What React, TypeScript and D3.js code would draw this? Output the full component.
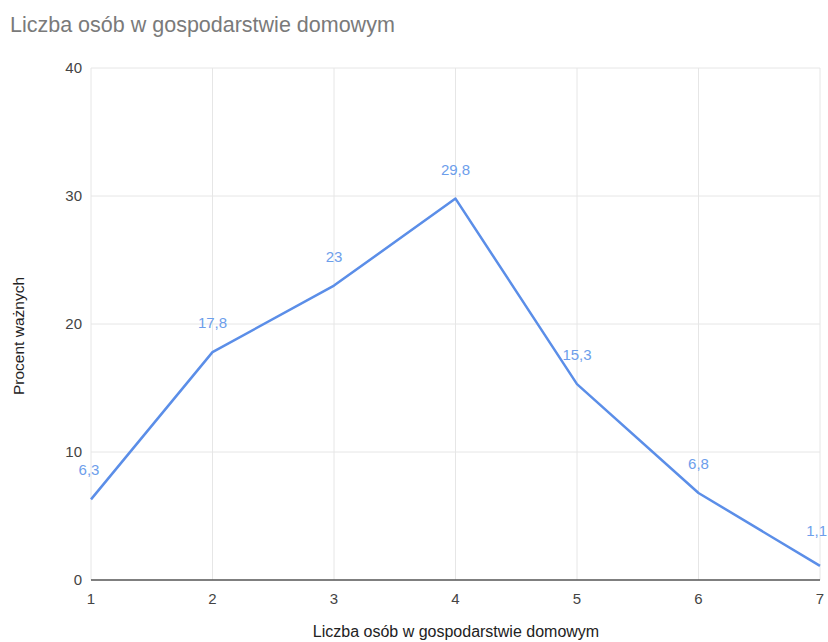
import React from "react";
import * as d3 from "d3";

const categories = [1, 2, 3, 4, 5, 6, 7];
const values = [6.3, 17.8, 23, 29.8, 15.3, 6.8, 1.1];
const valueLabels = ["6,3", "17,8", "23", "29,8", "15,3", "6,8", "1,1"];
const yTicks = [0, 10, 20, 30, 40];

const W = 828;
const H = 642;
const M = { left: 91, right: 8, top: 68, bottom: 62 };
const FONT = "'Liberation Sans', Arial, sans-serif";

export default function App() {
  const x = d3.scaleLinear().domain([1, 7]).range([M.left, W - M.right]);
  const y = d3.scaleLinear().domain([0, 40]).range([H - M.bottom, M.top]);
  const line = d3
    .line<number>()
    .x((_, i) => x(categories[i]))
    .y((d) => y(d));
  const last = values.length - 1;

  return (
    <svg
      width={W}
      height={H}
      style={{ position: "absolute", left: 0, top: 0, background: "#fff" }}
      fontFamily={FONT}
    >
      <text x={10} y={32} fontSize={21.5} fill="#7a7a7a">
        Liczba osób w gospodarstwie domowym
      </text>
      {yTicks.map((t) => (
        <g key={"y" + t}>
          {t > 0 && (
            <line x1={M.left} x2={W - M.right} y1={y(t)} y2={y(t)} stroke="#e6e6e6" />
          )}
          <text x={82} y={y(t) + 5} textAnchor="end" fontSize={15} fill="#444">
            {t}
          </text>
        </g>
      ))}
      {categories.map((c) => (
        <g key={"x" + c}>
          <line x1={x(c)} x2={x(c)} y1={M.top} y2={y(0)} stroke="#e6e6e6" />
          <text x={x(c)} y={y(0) + 24} textAnchor="middle" fontSize={15} fill="#444">
            {c}
          </text>
        </g>
      ))}
      <line x1={M.left} x2={W - M.right} y1={y(0)} y2={y(0)} stroke="#555" strokeWidth={1.5} />
      <path d={line(values) || ""} fill="none" stroke="#5b8ee8" strokeWidth={2.5} strokeLinejoin="round" />
      {values.map((v, i) => (
        <text
          key={"l" + i}
          x={i === last ? W - 1 : x(categories[i]) + (i === 0 ? -2 : 0)}
          y={y(v) - (i === last ? 30 : 24)}
          textAnchor={i === last ? "end" : "middle"}
          fontSize={15}
          fill="#6d9eeb"
        >
          {valueLabels[i]}
        </text>
      ))}
      <text
        transform={`translate(24,${(M.top + y(0)) / 2 + 12}) rotate(-90)`}
        textAnchor="middle"
        fontSize={15.5}
        fill="#222"
      >
        Procent ważnych
      </text>
      <text x={456} y={637} textAnchor="middle" fontSize={16} fill="#222">
        Liczba osób w gospodarstwie domowym
      </text>
    </svg>
  );
}
